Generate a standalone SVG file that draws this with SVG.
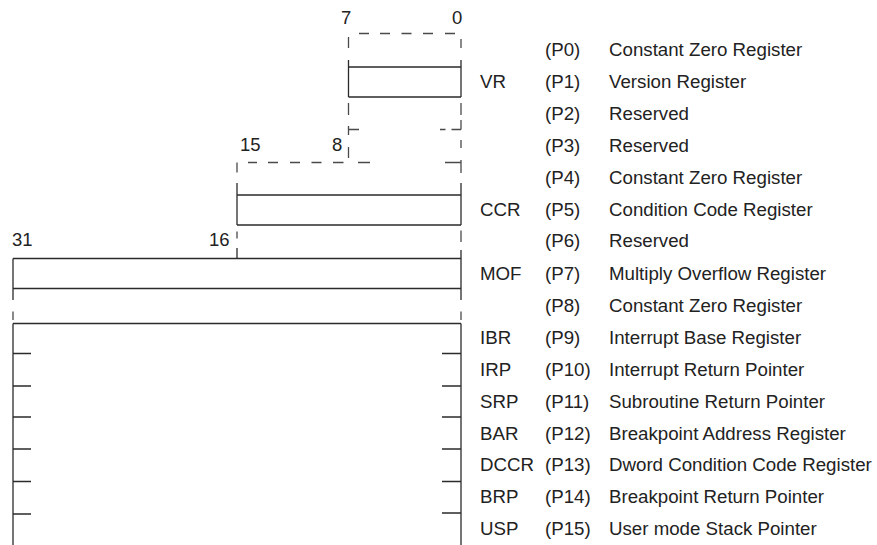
<svg xmlns="http://www.w3.org/2000/svg" width="877" height="545" viewBox="0 0 877 545">
  <style>
    .ln { stroke: #2b2b2b; stroke-width: 1.3; fill: none; stroke-linecap: butt; }
    .ds { stroke: #4a4a4a; stroke-width: 1.3; fill: none; }
    .t { font-family: "Liberation Sans", Arial, sans-serif; font-size: 18.7px; fill: #222; }
    .n { font-family: "Liberation Sans", Arial, sans-serif; font-size: 18.5px; fill: #222; }
  </style>
  <rect width="877" height="545" fill="#fff"/>

  <!-- bit numbers -->
  <g id="bit-numbers">
    <text class="n" x="341" y="24">7</text>
    <text class="n" x="452" y="24">0</text>
    <text class="n" x="240" y="151">15</text>
    <text class="n" x="332" y="151">8</text>
    <text class="n" x="12" y="245.5">31</text>
    <text class="n" x="209" y="245.5">16</text>
  </g>

  <!-- dashed outlines of unused/reserved bits -->
  <g id="connectors">
    <path class="ds" d="M359 33.5H369M380 33.5H390M401.5 33.5H411.5M423 33.5H433M445 33.5H455"/>
    <path class="ds" d="M348.5 37V48M461 39V48"/>
    <path class="ds" d="M348.5 103V115M348.5 126V135M348.5 129.5H359M348.5 147V158"/>
    <path class="ds" d="M461 103V115M461 120V129.5M440 129.5H445.5M451.5 129.5H461M461 140V148M461 160V173"/>
    <path class="ds" d="M237 162.5V172.5M248 162.5H257M268 162.5H278M290 162.5H300M311.5 162.5H321.5M333 162.5H343.5M358 162.5H370M445 162.5H461"/>
    <path class="ds" d="M237 231.5V238.5M461 230.5V242"/>
    <path class="ds" d="M13 311.5V320M461 311.5V320"/>
  </g>

  <g id="reg-vr">
    <path class="ln" d="M348.5 60V97M461 60V97M348.5 67H461M348.5 97H461"/>
  </g>

  <g id="reg-ccr">
    <path class="ln" d="M237 183V225M461 183V225M237 195H461M237 225H461"/>
  </g>

  <g id="reg-mof">
    <path class="ln" d="M237 248V258.5M461 250V300M13 258.5V300M13 258.5H461M13 288.5H461"/>
  </g>

  <g id="reg-file">
    <path class="ln" d="M13 323.5H461M13 323.5V545M461 323.5V545"/>
    <path class="ln" d="M13 353.5H31M13 386H31M13 417H31M13 449H31M13 481.5H31M13 514H31"/>
    <path class="ln" d="M442 353.5H461M442 386H461M442 417H461M442 449H461M442 481.5H461M442 513H461"/>
  </g>

  <g id="register-list">
    <g id="p0"><text class="t" x="545" y="55.5">(P0)</text><text class="t" x="609" y="55.5">Constant Zero Register</text></g>
    <g id="p1"><text class="t" x="480" y="88">VR</text><text class="t" x="545" y="88">(P1)</text><text class="t" x="609" y="88">Version Register</text></g>
    <g id="p2"><text class="t" x="545" y="120">(P2)</text><text class="t" x="609" y="120">Reserved</text></g>
    <g id="p3"><text class="t" x="545" y="152">(P3)</text><text class="t" x="609" y="152">Reserved</text></g>
    <g id="p4"><text class="t" x="545" y="184">(P4)</text><text class="t" x="609" y="184">Constant Zero Register</text></g>
    <g id="p5"><text class="t" x="480" y="215.5">CCR</text><text class="t" x="545" y="215.5">(P5)</text><text class="t" x="609" y="215.5">Condition Code Register</text></g>
    <g id="p6"><text class="t" x="545" y="247">(P6)</text><text class="t" x="609" y="247">Reserved</text></g>
    <g id="p7"><text class="t" x="480" y="280">MOF</text><text class="t" x="545" y="280">(P7)</text><text class="t" x="609" y="280">Multiply Overflow Register</text></g>
    <g id="p8"><text class="t" x="545" y="312">(P8)</text><text class="t" x="609" y="312">Constant Zero Register</text></g>
    <g id="p9"><text class="t" x="480" y="343.5">IBR</text><text class="t" x="545" y="343.5">(P9)</text><text class="t" x="609" y="343.5">Interrupt Base Register</text></g>
    <g id="p10"><text class="t" x="480" y="375.5">IRP</text><text class="t" x="545" y="375.5">(P10)</text><text class="t" x="609" y="375.5">Interrupt Return Pointer</text></g>
    <g id="p11"><text class="t" x="480" y="408">SRP</text><text class="t" x="545" y="408">(P11)</text><text class="t" x="609" y="408">Subroutine Return Pointer</text></g>
    <g id="p12"><text class="t" x="480" y="440">BAR</text><text class="t" x="545" y="440">(P12)</text><text class="t" x="609" y="440">Breakpoint Address Register</text></g>
    <g id="p13"><text class="t" x="480" y="471">DCCR</text><text class="t" x="545" y="471">(P13)</text><text class="t" x="609" y="471">Dword Condition Code Register</text></g>
    <g id="p14"><text class="t" x="480" y="503">BRP</text><text class="t" x="545" y="503">(P14)</text><text class="t" x="609" y="503">Breakpoint Return Pointer</text></g>
    <g id="p15"><text class="t" x="480" y="535">USP</text><text class="t" x="545" y="535">(P15)</text><text class="t" x="609" y="535">User mode Stack Pointer</text></g>
  </g>
</svg>
